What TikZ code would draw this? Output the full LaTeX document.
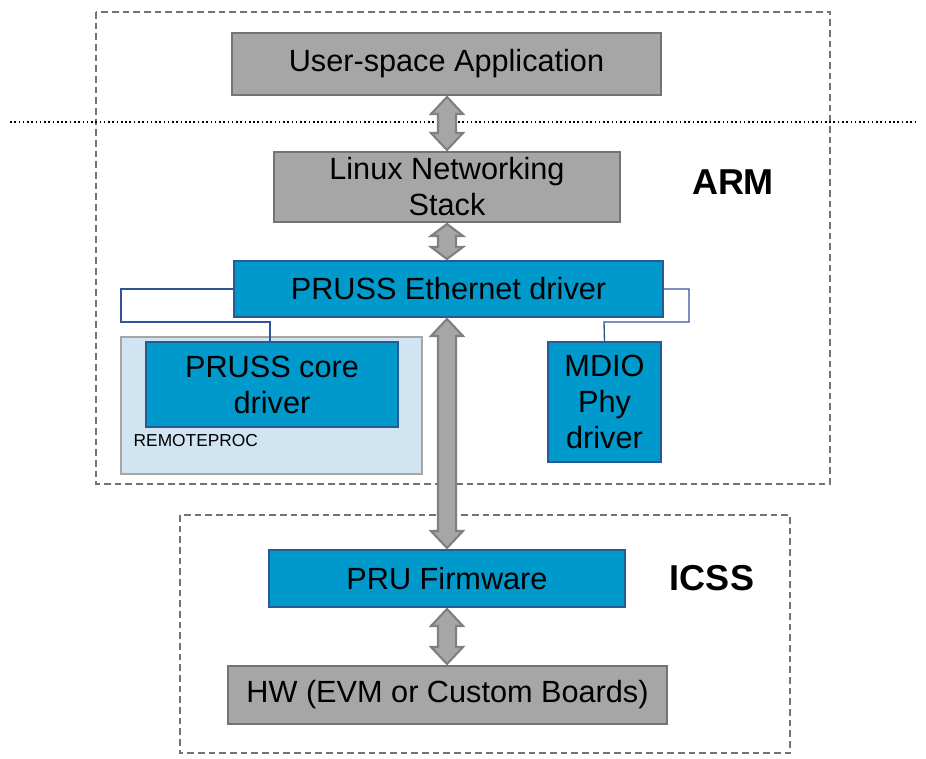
\documentclass[tikz,border=0pt]{standalone}
\usepackage{fontspec}
\setmainfont{Liberation Sans}
\definecolor{bfill}{RGB}{0,153,204}
\definecolor{bdraw}{RGB}{40,90,150}
\definecolor{lfill}{RGB}{208,228,242}
\definecolor{cline}{RGB}{47,85,151}
\begin{document}
\begin{tikzpicture}[x=0.75pt,y=-0.75pt,
  grayb/.style={draw=black!55,fill=black!35,line width=0.8pt,inner sep=0pt},
  blueb/.style={draw=bdraw,fill=bfill,line width=0.8pt,inner sep=0pt},
  frame/.style={draw=black!55,line width=1.5pt,dash pattern=on 5pt off 3pt},
  conn/.style={draw=cline,line width=1pt},
  dbl/.style={draw=black!50,fill=black!35,line width=1.6pt,line join=miter},
  txt/.style={font=\fontsize{23}{27}\selectfont,align=center}]
\useasboundingbox (0,0) rectangle (926,759);
\draw[frame] (96,12) rectangle (830,484);
\draw[frame] (180,515) rectangle (790,753);
\draw[dotted,line width=1.2pt] (10,122) -- (915,122);
\node[grayb,minimum width=321.75pt,minimum height=46.5pt,txt] (usr) at (446.5,64) {User-space Application};
\node[grayb,minimum width=259.5pt,minimum height=52.5pt,txt] (lin) at (447,187) {Linux Networking\\Stack};
\node[draw=black!35,fill=lfill,line width=0.8pt,minimum width=225.75pt,minimum height=102.75pt,inner sep=0pt] (rp) at (271.5,405.5) {};
\node[blueb,minimum width=321.75pt,minimum height=42pt,txt] (eth) at (448.5,289) {PRUSS Ethernet driver};
\node[blueb,minimum width=189pt,minimum height=63.75pt,txt] (core) at (272,384.5) {PRUSS core\\driver};
\node[anchor=west,font=\fontsize{13}{15}\selectfont] (rpl) at (129,441) {REMOTEPROC};
\node[blueb,minimum width=84.75pt,minimum height=90pt,txt] (mdio) at (604.5,402) {MDIO\\Phy\\driver};
\node[blueb,minimum width=267pt,minimum height=42.75pt,txt] (pru) at (447,578.5) {PRU Firmware};
\node[grayb,minimum width=329.25pt,minimum height=43.5pt,txt] (hw) at (447.5,695) {HW (EVM or Custom Boards)};
\node[font=\bfseries\fontsize{27}{30}\selectfont] (arm) at (733,182) {ARM};
\node[font=\bfseries\fontsize{27}{30}\selectfont] (icss) at (712,578) {ICSS};
\draw[conn] (eth.west) -- (121,289) -- (121,322) -- (270,322) -- (270,342);
\draw[conn] (eth.east) -- (689,289) -- (689,322) -- (604,322) -- (mdio.north);
\newcommand\dblarr[4]{%
 \draw[dbl] (#1,#2) -- (#1+16,#2+#4) -- (#1+9,#2+#4) -- (#1+9,#3-#4) -- (#1+16,#3-#4) -- (#1,#3)
   -- (#1-16,#3-#4) -- (#1-9,#3-#4) -- (#1-9,#2+#4) -- (#1-16,#2+#4) -- cycle;}
\dblarr{447}{97}{150}{17}
\dblarr{447}{224}{259}{12}
\dblarr{447}{319}{548}{17}
\dblarr{447}{609}{664}{17}
\end{tikzpicture}
\end{document}
